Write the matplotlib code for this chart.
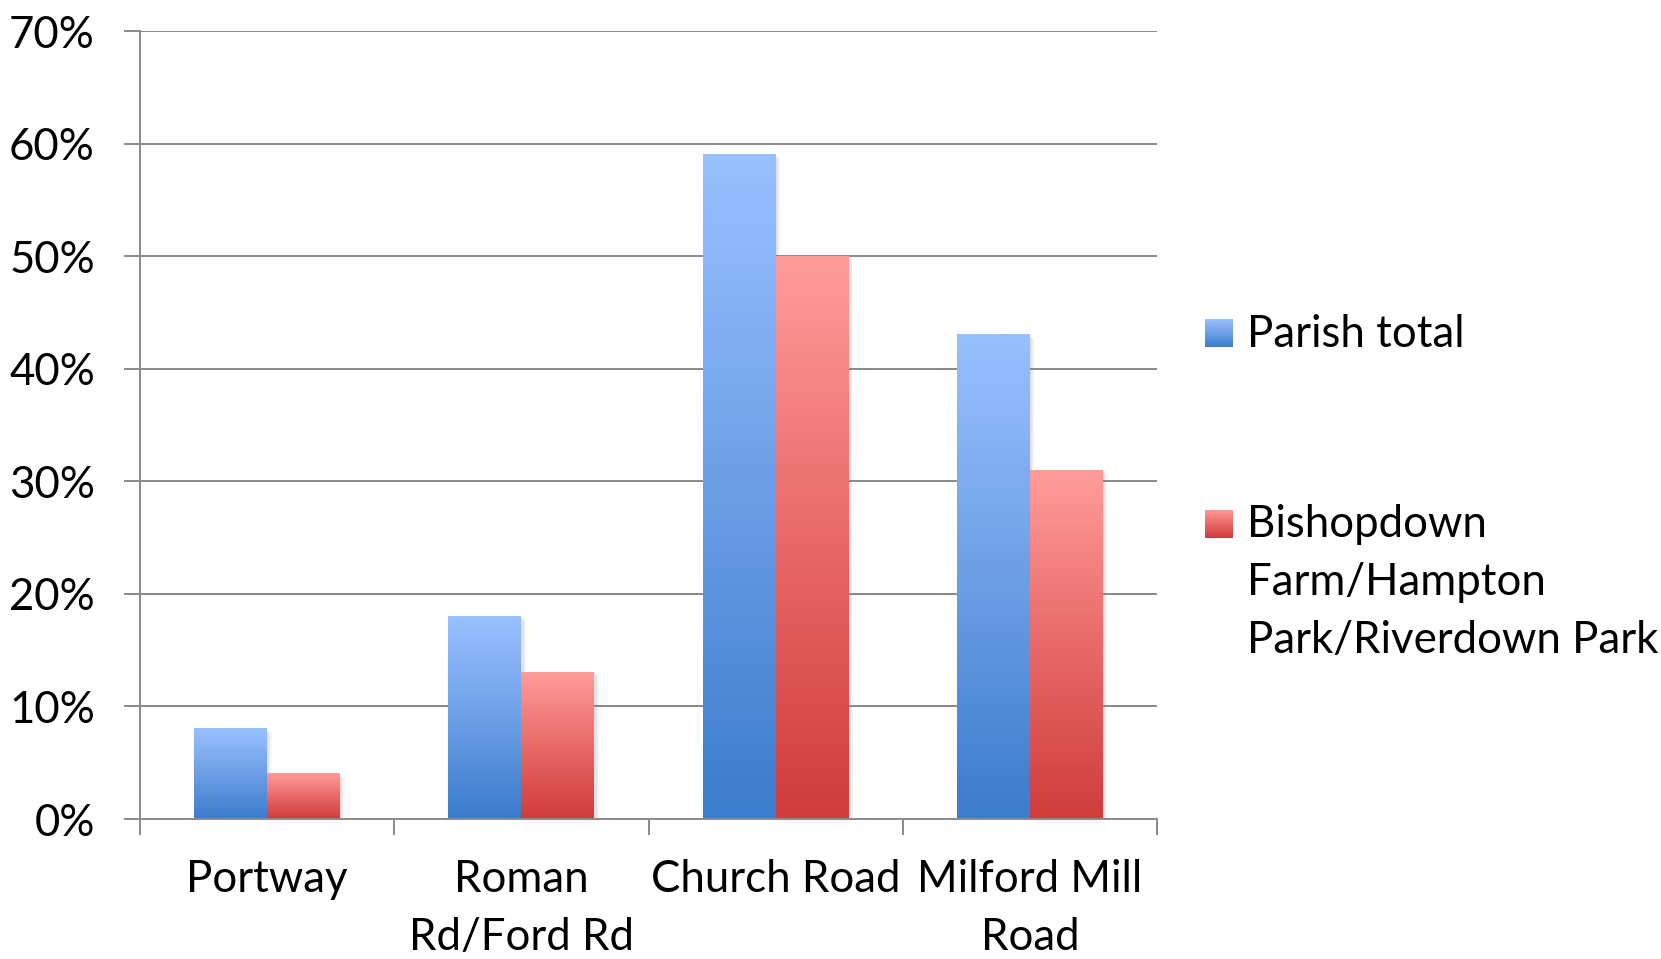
import numpy as np
import matplotlib
matplotlib.use("Agg")
import matplotlib.pyplot as plt
from matplotlib.colors import LinearSegmentedColormap
from matplotlib import patheffects as pe

# Data
categories = ["Portway", "Roman\nRd/Ford Rd", "Church Road", "Milford Mill\nRoad"]
parish_total = [8, 18, 59, 43]
bishopdown = [4, 13, 50, 31]
series_names = ["Parish total", "Bishopdown\nFarm/Hampton\nPark/Riverdown Park"]
y_ticks = [0, 10, 20, 30, 40, 50, 60, 70]

# Styling
W, H, DPI = 1661, 959, 100
FONT = "Lato"
FSIZE = 31.5
GRID = "#8c8c8c"
LW = 1.44
blue_cmap = LinearSegmentedColormap.from_list("blue", ["#3b7ccc", "#6d9fe6", "#99c0ff"])
red_cmap = LinearSegmentedColormap.from_list("red", ["#cf3c3c", "#e86a69", "#ff9c9a"])

plt.rcParams["font.family"] = [FONT, "DejaVu Sans"]

fig = plt.figure(figsize=(W / DPI, H / DPI), dpi=DPI)
ax = fig.add_axes([140 / W, 1 - 819 / H, (1157 - 140) / W, (819 - 31) / H])

x = np.arange(len(categories))
bw = 0.287
grad = np.linspace(0, 1, 256).reshape(-1, 1)

# soft drop shadow built from a few faint offset layers
shadow = [pe.SimplePatchShadow(offset=(k, -k * 0.8), shadow_rgbFace="#808080", alpha=0.07)
          for k in (0.8, 1.6, 2.4, 3.2)] + [pe.Normal()]


def gradient_bars(xpos, values, cmap):
    bars = ax.bar(xpos, values, bw, align="center", color="white", zorder=3,
                  linewidth=0, path_effects=shadow)
    for b in bars:
        x0, y0 = b.get_x(), b.get_y()
        ax.imshow(grad, extent=(x0, x0 + b.get_width(), y0, y0 + b.get_height()),
                  origin="lower", aspect="auto", cmap=cmap, zorder=4,
                  interpolation="bilinear")
    return bars


gradient_bars(x - bw / 2, parish_total, blue_cmap)
gradient_bars(x + bw / 2, bishopdown, red_cmap)

ax.set_xlim(-0.5, len(categories) - 0.5)
ax.set_ylim(0, 70)
ax.set_aspect("auto")

# Axes, ticks and grid
for s in ["top", "right"]:
    ax.spines[s].set_visible(False)
for s in ["left", "bottom"]:
    ax.spines[s].set_color(GRID)
    ax.spines[s].set_linewidth(LW)
    ax.spines[s].set_zorder(5)

ax.set_yticks(y_ticks)
ax.set_yticklabels([f"{v}%" for v in y_ticks])
ax.yaxis.grid(True, color=GRID, linewidth=LW, zorder=0)
ax.set_axisbelow(True)
ax.tick_params(axis="y", length=11.5, width=LW, color=GRID, pad=21, labelsize=FSIZE)

ax.set_xticks(x)
ax.set_xticklabels(categories, linespacing=1.5)
ax.set_xticks(np.arange(len(categories) + 1) - 0.5, minor=True)
ax.tick_params(axis="x", which="major", length=0, pad=29, labelsize=FSIZE)
ax.tick_params(axis="x", which="minor", length=11.5, width=LW, color=GRID)

# Legend with gradient swatches
def swatch(y_top, cmap):
    sax = fig.add_axes([1205 / W, 1 - (y_top + 28) / H, 28 / W, 28 / H])
    sax.imshow(grad, origin="lower", aspect="auto", cmap=cmap, extent=(0, 1, 0, 1))
    sax.set_axis_off()


swatch(319, blue_cmap)
swatch(510, red_cmap)
fig.text(1247 / W, 1 - 347 / H, series_names[0], fontsize=FSIZE, va="baseline", ha="left")
for i, line in enumerate(series_names[1].split("\n")):
    fig.text(1247 / W, 1 - (537 + 58 * i) / H, line, fontsize=FSIZE, va="baseline", ha="left")

fig.savefig("out.png", dpi=DPI, facecolor="white")
